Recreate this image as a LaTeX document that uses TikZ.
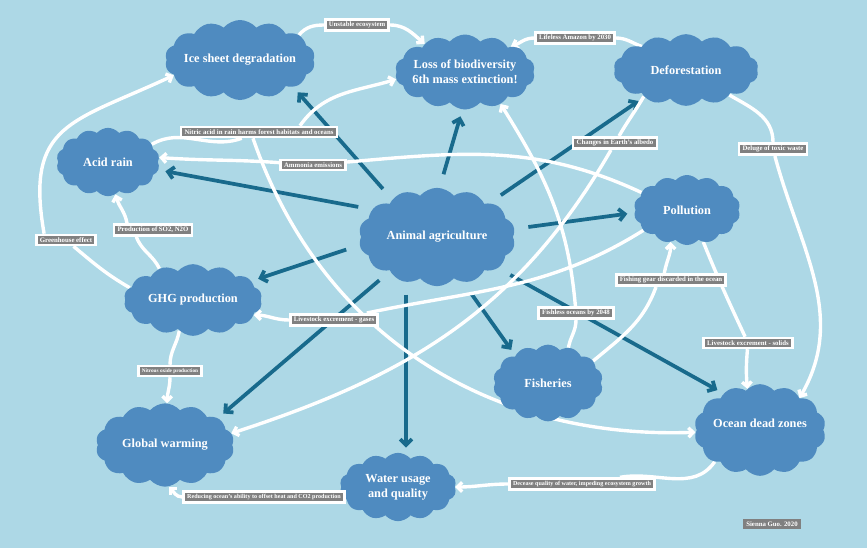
\documentclass[tikz,border=0pt]{standalone}
\usepackage{fontspec}
\setmainfont{Liberation Serif}
\usetikzlibrary{arrows.meta,shapes.symbols}
\pgfdeclarelayer{paper}
\pgfdeclarelayer{wires}
\pgfsetlayers{paper,wires,main}
\definecolor{skyback}{HTML}{ADD8E6}
\definecolor{cloudblue}{HTML}{4F8BC0}
\definecolor{arrowteal}{HTML}{186A8C}
\definecolor{taggray}{HTML}{808080}

\begin{document}
\begin{tikzpicture}[x=0.03cm,y=-0.03cm,>={Straight Barb[length=4pt,width=8pt]},line cap=round]

    \tikzstyle{puff}=[cloud,cloud puffs=14,cloud puff arc=100,cloud ignores aspect,fill=cloudblue,inner sep=0pt]
    \tikzstyle{cloudtext}=[text=white,font=\bfseries\fontsize{10.5}{12.5}\selectfont,align=center]
    \tikzstyle{tag}=[rectangle,fill=taggray,draw=white,line width=2.2pt,text=white,inner xsep=3pt,inner ysep=2.2pt,font=\bfseries\fontsize{5.8}{7}\selectfont]
    \tikzstyle{smalltag}=[tag,font=\bfseries\fontsize{5.2}{6}\selectfont]
    \tikzstyle{tinytag}=[tag,font=\bfseries\fontsize{4.5}{5}\selectfont]
    \tikzstyle{flow}=[white,line width=2.9pt]
    \tikzstyle{impact}=[arrowteal,line width=3.2pt,->,>={Straight Barb[length=5pt,width=10pt]},shorten <=12pt,shorten >=6pt]

    \useasboundingbox (0,0) rectangle (867,548);
    \begin{pgfonlayer}{paper}
        \fill[skyback] (0,0) rectangle (867,548);
    \end{pgfonlayer}

    % clouds
    \node[puff,minimum width=4.5cm,minimum height=2.4cm,label={[cloudtext]center:Ice sheet degradation}] (ice) at (240,60) {};
    \node[puff,minimum width=4.2cm,minimum height=2.25cm,label={[cloudtext]center:{Loss of biodiversity\\6th mass extinction!}}] (loss) at (465,72) {};
    \node[puff,minimum width=4.35cm,minimum height=2.15cm,label={[cloudtext]center:Deforestation}] (defor) at (686,70) {};
    \node[puff,minimum width=3.1cm,minimum height=2.05cm,label={[cloudtext]center:Acid rain}] (acid) at (108,162) {};
    \node[puff,minimum width=4.7cm,minimum height=2.95cm,label={[cloudtext]center:Animal agriculture}] (agri) at (437,237) {};
    \node[puff,minimum width=3.2cm,minimum height=2.1cm,label={[cloudtext]center:Pollution}] (poll) at (687,210) {};
    \node[puff,minimum width=4.15cm,minimum height=2.15cm,label={[cloudtext]center:GHG production}] (ghg) at (193,300) {};
    \node[puff,minimum width=3.3cm,minimum height=2.3cm,label={[cloudtext]center:Fisheries}] (fish) at (548,383) {};
    \node[puff,minimum width=4.15cm,minimum height=2.5cm,label={[cloudtext]center:Global warming}] (gw) at (165,445) {};
    \node[puff,minimum width=3.5cm,minimum height=2.05cm,label={[cloudtext]center:{Water usage\\and quality}}] (water) at (398,487) {};
    \node[puff,minimum width=3.95cm,minimum height=2.75cm,label={[cloudtext,yshift=0.2cm]center:Ocean dead zones}] (ocean) at (760,430) {};

    % labels on the links
    \node[tag] (unstable) at (357,25) {Unstable ecosystem};
    \node[tag] (amazon) at (575,38) {Lifeless Amazon by 2030};
    \node[tag] (deluge) at (773,149) {Deluge of toxic waste};
    \node[tag] (ammonia) at (313,165) {Ammonia emissions};
    \node[tag] (nitric) at (259,132) {Nitric acid in rain harms forest habitats and oceans};
    \node[tag] (greenhouse) at (66,240) {Greenhouse effect};
    \node[tag] (sulfur) at (153,230) {Production of SO2, N2O};
    \node[tinytag] (nitrous) at (170,371) {Nitrous oxide production};
    \node[tag] (gases) at (334,320) {Livestock excrement - gases};
    \node[tag] (fishless) at (576,313) {Fishless oceans by 2048};
    \node[tag] (gear) at (671,280) {Fishing gear discarded in the ocean};
    \node[tag] (solids) at (748,343) {Livestock excrement - solids};
    \node[smalltag] (decease) at (582,484) {Decease quality of water, impeding ecosystem growth};
    \node[smalltag] (reducing) at (264,497) {Reducing ocean's ability to offset heat and CO2 production};
    \node[tag] (albedo) at (615,143) {Changes in Earth's albedo};
    \node[tag,draw=none] (sign) at (772,524) {Sienna Guo. 2020};

    \begin{pgfonlayer}{wires}
        % what animal agriculture drives
        \draw[impact] (agri.140) -- (ice.333);
        \draw[impact] (agri.87) -- (loss.266);
        \draw[impact] (agri.33) -- (defor.213);
        \draw[impact] (agri.157) -- (acid.351);
        \draw[impact] (agri.6) -- (poll.183);
        \draw[impact] (agri.186) -- (ghg.18);
        \draw[impact] (agri.216) -- (gw.27);
        \draw[impact] (agri.245 -| water.76) -- (water.76);
        \draw[impact] (agri.300) -- (fish.140);
        \draw[impact] (agri.333) -- (ocean.135);

        % knock-on effects
        \draw[flow] (ice.23) to[out=50,in=180] (unstable);
        \draw[flow,->] (unstable) to[out=0,in=140] (loss.145);
        \draw[flow] (defor.152) to[out=160,in=0] (amazon);
        \draw[flow,->] (amazon) to[out=180,in=20] (loss.29);
        \draw[flow] (defor.330) to[out=-30,in=90] (deluge);
        \draw[flow,->] (deluge) to[out=-75,in=60] (ocean.39);
        \draw[flow] (poll.159) to[out=155,in=5] (ammonia);
        \draw[flow,->] (ammonia) to[out=176,in=-4] (acid.5);
        \draw[flow] (acid.22) to[out=30,in=200] (nitric);
        \draw[flow,->] ([xshift=1.23cm]nitric.north) to[out=55,in=197] (loss.186);
        \draw[flow,->] ([xshift=-0.18cm]nitric.south) to[out=-71,in=182] (ocean.182);
        \draw[flow] (ghg.169) to[out=150,in=-40] (greenhouse);
        \draw[flow,->] ([xshift=0.27cm]greenhouse.north west) to[out=100,in=205,looseness=1.4] (ice.193);
        \draw[flow] (ghg.137) to[out=115,in=-70] ([xshift=-0.5cm]sulfur.south);
        \draw[flow,->] ([xshift=-0.78cm]sulfur.north) to[out=100,in=-75] (acid.283);
        \draw[flow] (ghg.246) to[out=-100,in=90] (nitrous);
        \draw[flow,->] (nitrous) to[out=-90,in=90] (gw.87);
        \draw[flow] (poll.205) to[out=212,in=12] (gases);
        \draw[flow,->] (gases) to[out=180,in=0] (ghg.346);
        \draw[flow] (fish.60) to[out=80,in=-90] (fishless);
        \draw[flow,->] (fishless) to[out=95,in=-58] (loss.318);
        \draw[flow] (fish.26) to[out=40,in=-110] ([xshift=-0.45cm]gear.south);
        \draw[flow,->] ([xshift=-0.2cm]gear.north) to[out=80,in=-90] (poll.243);
        \draw[flow] (poll.297) to[out=-68,in=115] (solids);
        \draw[flow,->] (solids) to[out=-95,in=95] (ocean.107);
        \draw[flow] (ocean.215) to[out=235,in=10] (decease);
        \draw[flow,->] (decease) to[out=180,in=0] (water.0);
        \draw[flow] (water.190) -- (reducing);
        \draw[flow,->] (reducing) to[out=180,in=-45] (gw.275);
        \draw[flow] (defor.212) to[out=240,in=60] (albedo);
        \draw[flow,->] (albedo) to[out=240,in=18] (gw.10);
    \end{pgfonlayer}

\end{tikzpicture}
\end{document}
